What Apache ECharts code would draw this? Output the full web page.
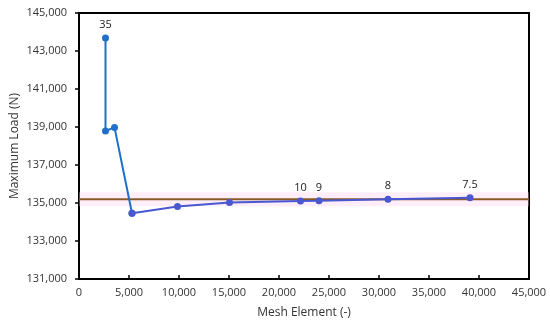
<!DOCTYPE html>
<html><head><meta charset="utf-8">
<script src="https://cdn.jsdelivr.net/npm/echarts@6/dist/echarts.min.js"></script>
<style>html,body{margin:0;padding:0;background:#fff}#c{width:550px;height:325px}</style>
</head><body><div id="c"></div>
<script>
const meshElements = [2650, 2650, 3550, 5300, 9850, 15050, 22150, 24000, 30900, 39100];
const maxLoads = [143680, 138790, 138980, 134460, 134810, 135020, 135110, 135120, 135200, 135280];
const pointLabels = ['35', '', '', '', '', '', '10', '9', '8', '7.5'];
const referenceLoad = 135200;
const bandLow = 134830, bandHigh = 135570;
const xRange = [0, 45000];
const yRange = [131000, 145000];

const font = '"Open Sans", sans-serif';
const splitAt = 3;
function pts(from, to) {
  const out = [];
  for (let i = from; i <= to; i++) {
    out.push({
      value: [meshElements[i], maxLoads[i]],
      label: { show: pointLabels[i] !== '' && i !== splitAt, formatter: pointLabels[i] }
    });
  }
  return out;
}
const chart = echarts.init(document.getElementById('c'));
chart.setOption({
  animation: false,
  grid: { left: 79, right: 21, top: 13, bottom: 46, show: true, borderColor: '#000', borderWidth: 2,
    outerBoundsMode: 'none', containLabel: false },
  xAxis: {
    type: 'value', min: xRange[0], max: xRange[1], interval: 5000,
    name: 'Mesh Element (-)', nameLocation: 'middle', nameGap: 28, nameMoveOverlap: false,
    nameTextStyle: { fontFamily: font, fontSize: 12, color: '#333' },
    axisLine: { show: true, lineStyle: { color: '#000', width: 2 } },
    axisTick: { show: true, inside: true, length: 4, lineStyle: { color: '#000', width: 1.5 } },
    splitLine: { show: false },
    axisLabel: { fontFamily: font, fontSize: 11, color: '#333', margin: 8,
      formatter: v => v.toLocaleString('en-US') }
  },
  yAxis: {
    type: 'value', min: yRange[0], max: yRange[1], interval: 2000,
    name: 'Maximum Load (N)', nameLocation: 'middle', nameGap: 58, nameMoveOverlap: false,
    nameTextStyle: { fontFamily: font, fontSize: 12, color: '#333' },
    axisLine: { show: true, lineStyle: { color: '#000', width: 2 } },
    axisTick: { show: true, inside: false, length: 4, lineStyle: { color: '#000', width: 1.5 } },
    splitLine: { show: false },
    axisLabel: { fontFamily: font, fontSize: 11, color: '#333', margin: 12,
      formatter: v => v.toLocaleString('en-US') }
  },
  series: [
    {
      type: 'line', data: [[xRange[0], referenceLoad], [xRange[1], referenceLoad]],
      symbol: 'none', lineStyle: { color: '#8a5a28', width: 2 }, z: 1, silent: true,
      markArea: { silent: true, itemStyle: { color: 'rgba(250,205,240,0.35)' },
        data: [[{ yAxis: bandLow }, { yAxis: bandHigh }]] }
    },
    {
      type: 'line', data: pts(0, splitAt), symbol: 'circle', symbolSize: 7,
      lineStyle: { color: '#1f70c8', width: 2 }, itemStyle: { color: '#1f70c8' }, z: 3,
      label: { position: 'top', distance: 4, fontFamily: font, fontSize: 11, color: '#222' }
    },
    {
      type: 'line', data: pts(splitAt, meshElements.length - 1),
      symbol: 'circle', symbolSize: 7,
      lineStyle: { color: '#4a58d0', width: 2 }, itemStyle: { color: '#4a58d0' }, z: 3,
      label: { position: 'top', distance: 4, fontFamily: font, fontSize: 11, color: '#222' }
    }
  ]
});
</script></body></html>
